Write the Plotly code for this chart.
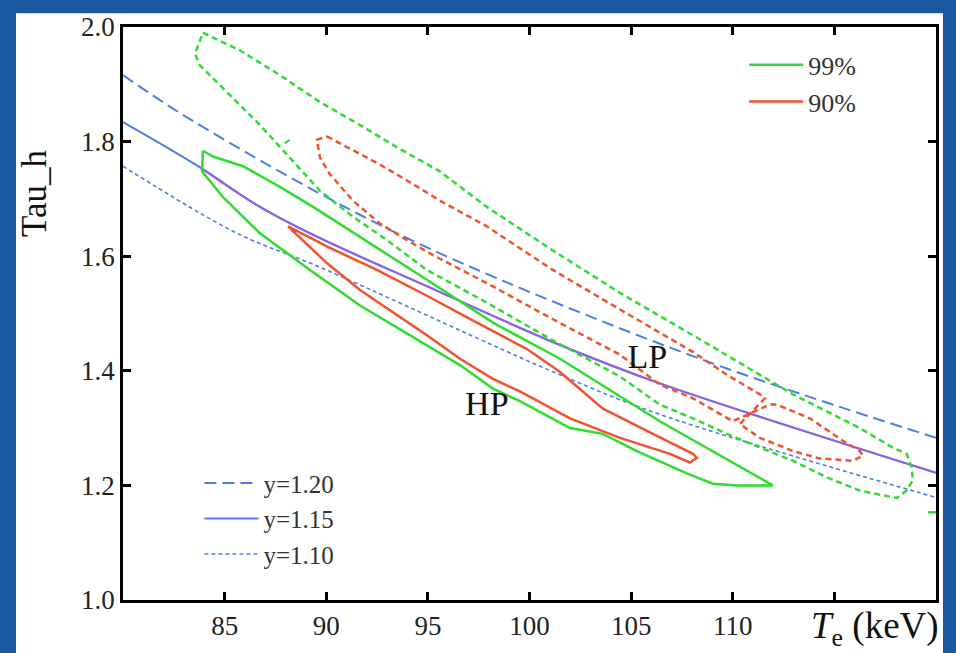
import plotly.graph_objects as go

# ---------------- data ----------------
# 99% LP contour (green dashed)
lp99_x = [83.93, 85.76, 87.72, 89.69, 91.66, 93.48, 95.59, 97.90, 101.15, 104.45, 108.38,
          112.96, 116.25, 117.87, 118.56, 118.81, 118.86, 118.56, 118.07,
          116.25, 114.63, 112.96, 111.33, 109.71, 108.04, 106.41, 104.45, 101.15, 97.90,
          94.95, 92.99, 91.31, 89.69, 88.21, 86.74, 85.26, 83.79, 83.54, 83.93]
lp99_y = [1.990, 1.959, 1.916, 1.869, 1.829, 1.790, 1.748, 1.686, 1.610, 1.536, 1.455,
          1.359, 1.300, 1.266, 1.255, 1.231, 1.209, 1.191, 1.178,
          1.191, 1.214, 1.243, 1.266, 1.290, 1.317, 1.341, 1.390, 1.453, 1.519,
          1.576, 1.628, 1.669, 1.714, 1.772, 1.829, 1.881, 1.933, 1.953, 1.990]

# 90% LP contour (red dashed)
lp90_x = [90.03, 91.02, 92.64, 94.26, 95.59, 97.90, 101.15, 104.45, 108.04, 109.71, 111.33,
          111.58, 110.35, 111.33, 112.96, 114.28, 115.91, 116.40, 116.25, 115.42, 113.79,
          112.17, 111.82, 110.00, 108.04, 106.41, 104.45, 101.15, 97.90, 95.25, 93.97,
          92.64, 91.31, 90.18, 89.69, 89.54, 90.03]
lp90_y = [1.809, 1.790, 1.760, 1.726, 1.697, 1.652, 1.576, 1.507, 1.433, 1.393, 1.359,
          1.352, 1.307, 1.283, 1.260, 1.247, 1.243, 1.252, 1.260, 1.278, 1.317,
          1.341, 1.341, 1.312, 1.352, 1.376, 1.428, 1.490, 1.553, 1.602, 1.628,
          1.657, 1.697, 1.743, 1.772, 1.803, 1.809]

# 99% HP contour (green solid)
hp99_x = [83.93, 84.43, 85.90, 87.72, 89.35, 91.66, 94.95, 98.20, 101.50, 106.41, 111.97,
          110.20, 109.02, 107.74, 105.28, 103.61, 101.99, 99.53, 98.20, 96.58, 94.12,
          91.66, 89.20, 86.74, 84.92, 83.89, 83.93]
hp99_y = [1.784, 1.774, 1.757, 1.721, 1.686, 1.634, 1.559, 1.484, 1.421, 1.312, 1.200,
          1.200, 1.203, 1.221, 1.260, 1.290, 1.300, 1.347, 1.369, 1.410, 1.462,
          1.514, 1.576, 1.640, 1.703, 1.748, 1.784]

# 90% HP contour (red solid)
hp90_x = [88.12, 90.03, 92.49, 94.95, 97.41, 99.87, 101.50, 103.61, 106.07, 108.04, 108.23,
          107.89, 106.91, 104.45, 101.99, 99.53, 98.20, 96.58, 94.95, 93.28, 91.66,
          90.03, 88.36, 88.12]
hp90_y = [1.652, 1.617, 1.576, 1.531, 1.484, 1.438, 1.398, 1.334, 1.290, 1.255, 1.248,
          1.240, 1.255, 1.283, 1.317, 1.364, 1.386, 1.421, 1.462, 1.502, 1.541,
          1.588, 1.645, 1.652]

# small fragments of other 99% contours
frag1_x = [87.95, 88.2]
frag1_y = [1.797, 1.803]
frag2_x = [119.6, 120.0]
frag2_y = [1.153, 1.153]

# y = const curves
y120_x = [80.0, 82.80, 89.54, 95.59, 108.38, 120.0]
y120_y = [1.916, 1.850, 1.712, 1.605, 1.421, 1.283]
y115_x = [80.0, 83.79, 86.74, 89.54, 94.61, 101.50, 106.41, 120.0]
y115_y = [1.834, 1.755, 1.686, 1.634, 1.553, 1.445, 1.378, 1.222]
y110_x = [80.0, 85.61, 89.54, 101.50, 106.41, 120.0]
y110_y = [1.757, 1.640, 1.583, 1.393, 1.324, 1.179]

x_ticks = [85, 90, 95, 100, 105, 110, 115]
x_ticktext = ["85", "90", "95", "100", "105", "110", " "]
y_ticks = [1.0, 1.2, 1.4, 1.6, 1.8, 2.0]
y_ticktext = ["1.0", "1.2", "1.4", "1.6", "1.8", "2.0"]

labels = ["HP", "LP"]
label_x = [97.9, 105.8]
label_y = [1.338, 1.419]

# ---------------- style ----------------
GREEN = "#2fdc2f"
RED = "#f2522e"
BLUE = "#4b7fe6"
PURPLE = "#9060e6"
SERIF = "Liberation Serif"

fig = go.Figure()

# y = const lines
fig.add_trace(go.Scatter(x=y120_x, y=y120_y, mode="lines", name="y=1.20", legend="legend2",
                         line=dict(color=BLUE, width=2, dash="12px,6px", shape="spline")))
fig.add_trace(go.Scatter(x=y115_x, y=y115_y, mode="lines", name="y=1.15", legend="legend2",
                         line=dict(color=BLUE, width=2, shape="spline")))
fig.add_trace(go.Scatter(x=y115_x[1:], y=y115_y[1:], mode="lines", showlegend=False,
                         line=dict(color=PURPLE, width=2, shape="spline")))
fig.add_trace(go.Scatter(x=y110_x, y=y110_y, mode="lines", name="y=1.10", legend="legend2",
                         line=dict(color=BLUE, width=1.6, dash="4px,3px", shape="spline")))

# contours
fig.add_trace(go.Scatter(x=lp99_x, y=lp99_y, mode="lines", showlegend=False,
                         line=dict(color=GREEN, width=2.5, dash="6px,4px")))
fig.add_trace(go.Scatter(x=lp90_x, y=lp90_y, mode="lines", showlegend=False,
                         line=dict(color=RED, width=2.5, dash="6px,4px")))
fig.add_trace(go.Scatter(x=hp99_x, y=hp99_y, mode="lines", name="99%", legend="legend",
                         line=dict(color=GREEN, width=2.5)))
fig.add_trace(go.Scatter(x=hp90_x, y=hp90_y, mode="lines", name="90%", legend="legend",
                         line=dict(color=RED, width=2.5)))
fig.add_trace(go.Scatter(x=frag1_x, y=frag1_y, mode="lines", showlegend=False,
                         line=dict(color=GREEN, width=2)))
fig.add_trace(go.Scatter(x=frag2_x, y=frag2_y, mode="lines", showlegend=False,
                         line=dict(color=GREEN, width=2.5)))

# HP / LP labels
fig.add_trace(go.Scatter(x=label_x, y=label_y, mode="text", text=labels, showlegend=False,
                         textfont=dict(family=SERIF, size=34, color="#111")))

axis_common = dict(showline=True, linecolor="black", linewidth=2.5, mirror="ticks",
                   ticks="inside", ticklen=8, tickwidth=2.5, tickcolor="black",
                   showgrid=False, zeroline=False,
                   tickfont=dict(family=SERIF, size=27, color="#222"))

fig.update_layout(
    width=956, height=653,
    margin=dict(l=123, r=20, t=21, b=52),
    paper_bgcolor="#1a579f",
    plot_bgcolor="white",
    xaxis=dict(range=[80, 120], tickvals=x_ticks, ticktext=x_ticktext, **axis_common),
    yaxis=dict(range=[1.0, 2.0], tickvals=y_ticks, ticktext=y_ticktext, **axis_common),
    legend=dict(x=0.764, y=0.975, xanchor="left", yanchor="top", bgcolor="rgba(0,0,0,0)",
                itemwidth=54, font=dict(family=SERIF, size=26, color="#333"),
                tracegroupgap=0),
    legend2=dict(x=0.094, y=0.244, xanchor="left", yanchor="top", bgcolor="rgba(0,0,0,0)",
                 itemwidth=54, font=dict(family=SERIF, size=25, color="#333"),
                 tracegroupgap=0),
    shapes=[dict(type="rect", xref="paper", yref="paper", x0=-0.1316, x1=1.0086,
                 y0=-0.2, y1=1.0241, fillcolor="white", line=dict(width=0), layer="below")],
    annotations=[
        dict(text="Tau_h", xref="paper", yref="paper", x=-0.108, y=0.709, textangle=-90,
             showarrow=False, font=dict(family=SERIF, size=35, color="#111"),
             xanchor="center", yanchor="middle"),
        dict(text="<i>T</i><sub>e</sub> (keV)", xref="paper", yref="paper", x=0.925, y=-0.05,
             showarrow=False, font=dict(family=SERIF, size=37, color="#111"),
             xanchor="center", yanchor="middle"),
    ],
)

fig.write_html("out.html", config={"displayModeBar": False},
               post_script="document.body.style.margin='0';document.body.style.overflow='hidden';")
